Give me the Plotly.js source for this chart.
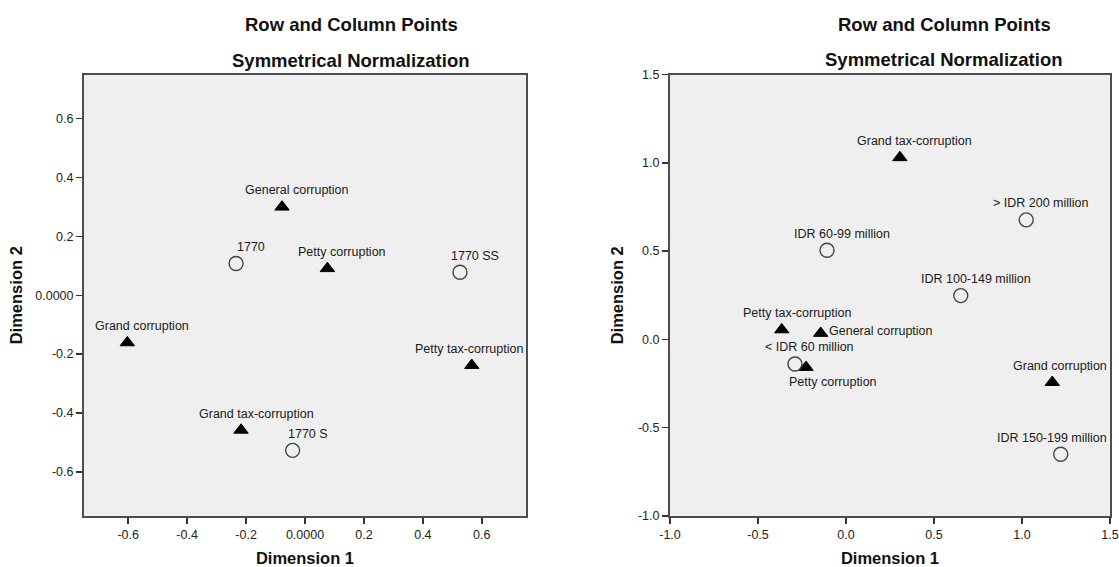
<!DOCTYPE html>
<html>
<head>
<meta charset="utf-8">
<script src="https://cdn.plot.ly/plotly-3.0.1.min.js"></script>
<style>html,body{margin:0;padding:0;background:#fff}#chart{width:1119px;height:567px}</style>
</head>
<body>
<div id="chart"></div>
<script>
// ---- Left panel (Dimension 1 vs Dimension 2) ----
const leftRowLabels = ['General corruption', 'Petty corruption', 'Grand corruption', 'Petty tax-corruption', 'Grand tax-corruption'];
const leftRowX = [-0.078, 0.076, -0.603, 0.566, -0.217];
const leftRowY = [0.300, 0.091, -0.161, -0.238, -0.458];

const leftColLabels = ['1770', '1770 SS', '1770 S'];
const leftColX = [-0.234, 0.526, -0.042];
const leftColY = [0.108, 0.078, -0.527];

const leftTickVals = [-0.6, -0.4, -0.2, 0, 0.2, 0.4, 0.6];
const leftTickText = ['-0.6', '-0.4', '-0.2', '0.0000', '0.2', '0.4', '0.6'];

// ---- Right panel ----
const rightRowLabels = ['Grand tax-corruption', 'Petty tax-corruption', 'General corruption', 'Petty corruption', 'Grand corruption'];
const rightRowX = [0.306, -0.365, -0.144, -0.227, 1.172];
const rightRowY = [1.030, 0.055, 0.035, -0.158, -0.243];

const rightColLabels = ['> IDR 200 million', 'IDR 60-99 million', 'IDR 100-149 million', '< IDR 60 million', 'IDR 150-199 million'];
const rightColX = [1.024, -0.108, 0.652, -0.290, 1.220];
const rightColY = [0.677, 0.505, 0.248, -0.139, -0.650];

const rightTickVals = [-1.0, -0.5, 0.0, 0.5, 1.0, 1.5];
const rightTickText = ['-1.0', '-0.5', '0.0', '0.5', '1.0', '1.5'];

const titleLine1 = 'Row and Column Points';
const titleLine2 = 'Symmetrical Normalization';
const xTitle = 'Dimension 1';
const yTitle = 'Dimension 2';

// ---- label placement (styling only) ----
const leftPlacement = {'Petty tax-corruption': 'clampRight'};
const rightPlacement = {
  'General corruption': 'right',
  'Petty corruption': 'below',
  'Grand corruption': 'clampRight',
  'IDR 150-199 million': 'clampRight'
};

const FONT = 'Liberation Sans, Arial, sans-serif';
const W = 1119, H = 567;
const L = {x0: 84, x1: 526, y0: 74.5, y1: 516};
const R = {x0: 670, x1: 1110, y0: 74.5, y1: 516};

const triMarker = {symbol: 'triangle-up', size: 12.5, color: '#000', line: {color: '#000', width: 1}};
const circMarker = {symbol: 'circle-open', size: 14, color: '#444', line: {color: '#444', width: 1.4}};

const traces = [
  {type: 'scatter', mode: 'markers', x: leftRowX, y: leftRowY, marker: triMarker, xaxis: 'x', yaxis: 'y', hoverinfo: 'text', text: leftRowLabels, cliponaxis: false},
  {type: 'scatter', mode: 'markers', x: leftColX, y: leftColY, marker: circMarker, xaxis: 'x', yaxis: 'y', hoverinfo: 'text', text: leftColLabels, cliponaxis: false},
  {type: 'scatter', mode: 'markers', x: rightRowX, y: rightRowY, marker: triMarker, xaxis: 'x2', yaxis: 'y2', hoverinfo: 'text', text: rightRowLabels, cliponaxis: false},
  {type: 'scatter', mode: 'markers', x: rightColX, y: rightColY, marker: circMarker, xaxis: 'x2', yaxis: 'y2', hoverinfo: 'text', text: rightColLabels, cliponaxis: false}
];

const annotations = [];
function addLabels(labels, xs, ys, xref, yref, placement, xmax) {
  labels.forEach((t, i) => {
    const mode = placement[t] || 'top';
    const a = {text: t, x: xs[i], y: ys[i], xref: xref, yref: yref, showarrow: false,
      font: {family: FONT, size: 12.5, color: '#1a1a1a'}, xanchor: 'center', yanchor: 'middle',
      xshift: 15, yshift: 16.5};
    if (mode === 'clampRight') { a.x = xmax; a.xanchor = 'right'; a.xshift = -1; }
    else if (mode === 'right') { a.xanchor = 'left'; a.xshift = 6; a.yshift = 2; }
    else if (mode === 'below') { a.xshift = 27; a.yshift = -14.5; }
    annotations.push(a);
  });
}
addLabels(leftRowLabels, leftRowX, leftRowY, 'x', 'y', leftPlacement, 0.75);
addLabels(leftColLabels, leftColX, leftColY, 'x', 'y', leftPlacement, 0.75);
addLabels(rightRowLabels, rightRowX, rightRowY, 'x2', 'y2', rightPlacement, 1.5);
addLabels(rightColLabels, rightColX, rightColY, 'x2', 'y2', rightPlacement, 1.5);

function titleAnn(text, cx, cy) {
  return {text: '<b>' + text + '</b>', xref: 'paper', yref: 'paper', x: cx / W, y: 1 - cy / H,
    xanchor: 'center', yanchor: 'middle', showarrow: false, font: {family: FONT, size: 18.5, color: '#111'}};
}
annotations.push(titleAnn(titleLine1, 351, 25));
annotations.push(titleAnn(titleLine2, 351, 60));
annotations.push(titleAnn(titleLine1, 944, 25));
annotations.push(titleAnn(titleLine2, 944, 59.5));

function axisCommon() {
  return {
    showline: true, mirror: true, linecolor: '#4d4d4d', linewidth: 2,
    showgrid: false, zeroline: false,
    ticks: 'outside', ticklen: 6, tickwidth: 1.5, tickcolor: '#333',
    tickfont: {family: FONT, size: 12.5, color: '#222'},
    automargin: false, fixedrange: true
  };
}

const layout = {
  width: W, height: H,
  margin: {l: 0, r: 0, t: 0, b: 0},
  paper_bgcolor: '#ffffff', plot_bgcolor: '#efefef',
  showlegend: false,
  xaxis: Object.assign(axisCommon(), {domain: [L.x0 / W, L.x1 / W], range: [-0.75, 0.75], anchor: 'y',
    tickmode: 'array', tickvals: leftTickVals, ticktext: leftTickText,
    title: {text: '<b>' + xTitle + '</b>', font: {family: FONT, size: 16.5, color: '#111'}, standoff: 13}}),
  yaxis: Object.assign(axisCommon(), {domain: [1 - L.y1 / H, 1 - L.y0 / H], range: [-0.75, 0.75], anchor: 'x',
    tickmode: 'array', tickvals: leftTickVals, ticktext: leftTickText, ticklabelstandoff: 0,
    title: {text: '<b>' + yTitle + '</b>', font: {family: FONT, size: 16.5, color: '#111'}, standoff: 8}}),
  xaxis2: Object.assign(axisCommon(), {domain: [R.x0 / W, R.x1 / W], range: [-1, 1.5], anchor: 'y2',
    tickmode: 'array', tickvals: rightTickVals, ticktext: rightTickText,
    title: {text: '<b>' + xTitle + '</b>', font: {family: FONT, size: 16.5, color: '#111'}, standoff: 13}}),
  yaxis2: Object.assign(axisCommon(), {domain: [1 - R.y1 / H, 1 - R.y0 / H], range: [-1, 1.5], anchor: 'x2',
    tickmode: 'array', tickvals: rightTickVals, ticktext: rightTickText, ticklabelstandoff: 0,
    title: {text: '<b>' + yTitle + '</b>', font: {family: FONT, size: 16.5, color: '#111'}, standoff: 10}}),
  annotations: annotations
};

Plotly.newPlot('chart', traces, layout, {displayModeBar: false, staticPlot: true});
</script>
</body>
</html>
